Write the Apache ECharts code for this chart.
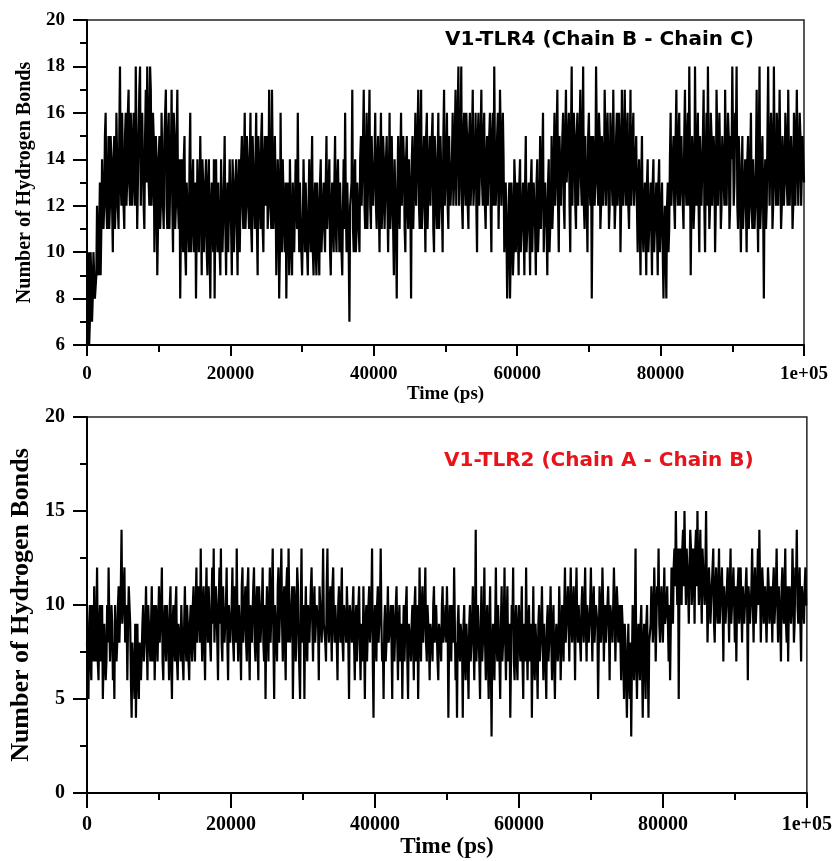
<!DOCTYPE html>
<html>
<head>
<meta charset="utf-8">
<script src="https://cdn.jsdelivr.net/npm/echarts@6/dist/echarts.min.js"></script>
<style>
html,body{margin:0;padding:0;background:#fff;}
#chart{width:835px;height:861px;}
</style>
</head>
<body>
<div id="chart"></div>
<script>
// Digitised traces: "even" samples at t = 0, 200, 400 ... 100000 ps,
// "odd" samples at t = 100, 300, ... 99900 ps.
const halfStep = 100;

// V1-TLR4 (Chain B - Chain C)
const tlr4Even = [
  6,10,7,9,8,10,8,12,9,13,11,14,12,16,11,15,12,14,10,15,12,16,11,18,12,
  14,11,16,13,17,12,15,13,16,18,11,15,18,12,16,11,17,18,13,18,12,16,10,15,9,
  14,11,16,12,15,17,11,16,13,17,10,15,12,17,11,8,14,10,15,9,13,10,16,11,14,
  10,8,14,10,15,9,13,11,14,9,14,8,13,10,8,14,10,13,9,14,10,15,9,13,10,
  14,9,13,10,14,9,14,10,15,11,16,12,14,11,16,10,15,11,16,9,14,11,16,10,15,
  13,11,17,12,17,11,15,9,14,8,16,10,14,10,8,13,9,14,9,13,10,14,16,10,13,
  9,14,10,13,9,14,10,15,9,13,9,12,9,14,10,13,10,15,11,14,9,13,10,15,10,
  14,10,13,9,14,16,10,13,7,12,17,10,14,11,13,10,15,12,17,11,16,13,17,11,15,
  12,16,11,15,10,16,12,14,11,15,10,16,12,15,9,14,8,15,11,16,12,14,10,15,11,
  14,8,15,11,16,12,17,11,17,12,15,10,16,11,15,12,16,10,14,11,16,12,15,10,17,
  12,16,11,15,12,16,13,17,12,18,13,18,11,16,12,15,11,16,13,17,12,16,10,16,12,
  17,12,16,11,15,12,16,10,16,18,12,15,11,17,12,16,10,13,8,12,8,13,9,14,10,
  13,9,14,10,13,9,15,10,13,9,14,10,12,9,14,10,15,11,16,10,13,9,14,10,15,
  12,16,13,17,10,15,12,16,11,17,13,16,10,18,12,15,11,16,12,17,12,18,11,15,10,
  16,12,8,15,12,18,13,16,11,15,12,17,12,16,11,16,13,17,11,15,12,16,10,17,12,
  17,12,16,11,17,13,16,12,15,10,14,9,15,10,13,9,14,10,13,9,14,10,13,9,14,
  10,13,8,12,8,13,11,16,12,15,11,17,12,16,13,15,11,17,12,16,18,9,15,11,18,
  12,16,10,15,12,17,10,16,18,11,16,12,15,10,17,12,16,11,15,13,17,12,16,11,15,
  18,12,16,18,11,14,10,15,11,14,10,15,12,16,11,14,12,17,10,18,12,15,8,14,12,
  18,12,16,11,18,13,16,12,17,11,15,12,16,13,17,12,15,11,16,12,17,12,16,12,15,
  13
];
const tlr4Odd = [
  8,6,10,7,10,8,9,10,11,9,14,11,15,12,13,11,15,12,14,11,16,12,15,13,16,
  12,15,12,16,13,16,12,16,12,15,13,17,12,16,12,15,13,16,12,17,13,15,12,14,11,
  15,12,14,11,16,12,15,11,14,12,16,11,15,12,14,11,12,14,10,13,11,14,10,13,10,
  13,11,12,10,12,14,10,13,10,13,10,12,11,14,12,11,13,10,14,10,13,11,12,10,14,
  11,14,10,13,11,13,10,14,12,14,11,15,12,14,11,15,12,14,11,15,12,15,11,14,12,
  15,12,14,11,14,12,13,11,13,10,12,14,11,13,11,12,14,10,13,10,14,11,12,13,10,
  11,12,13,10,12,11,13,10,12,10,13,10,13,10,12,11,13,11,13,10,12,11,13,11,13,
  12,13,10,12,11,12,13,10,12,13,11,13,10,13,11,14,12,15,12,14,11,15,12,15,12,
  14,12,14,12,14,11,15,11,14,12,13,11,15,11,14,11,13,12,14,12,15,11,14,12,14,
  12,14,11,14,12,15,12,15,11,14,12,15,11,14,12,15,11,15,12,14,11,15,12,15,12,
  14,12,15,12,14,12,15,12,16,12,15,12,15,13,16,12,15,12,15,12,14,12,15,12,15,
  13,15,12,14,12,15,12,15,12,14,13,16,13,15,12,14,12,11,10,13,10,12,10,13,11,
  11,13,10,12,11,13,10,12,11,13,10,13,11,13,10,12,11,14,10,13,11,13,10,12,11,
  14,12,15,12,15,12,15,12,15,13,15,12,15,12,16,12,15,12,15,13,15,12,15,12,15,
  13,15,12,14,13,15,12,15,12,14,13,15,12,14,12,15,12,14,12,16,13,15,12,15,13,
  14,15,12,14,12,15,12,14,12,13,11,13,11,12,11,13,10,12,11,13,10,12,11,13,10,
  12,10,11,10,12,10,14,12,14,12,15,13,15,12,15,12,15,13,15,12,14,12,14,12,14,
  14,12,15,12,15,12,14,12,14,12,15,12,14,12,15,12,14,12,15,12,14,12,15,12,14,
  15,13,15,12,15,12,13,11,13,12,14,11,14,12,14,11,14,12,15,11,14,12,13,11,15,
  14,12,15,12,14,12,15,12,14,12,14,13,15,12,14,12,14,12,15,12,14,12,15,12,14
];

// V1-TLR2 (Chain A - Chain B)
const tlr2Even = [
  8,5,10,6,9,11,7,12,6,10,8,5,9,6,10,12,7,10,6,5,10,8,11,8,14,
  9,12,8,6,11,9,4,8,5,4,9,5,8,6,10,7,11,6,10,7,11,8,6,10,7,
  11,8,12,6,10,7,9,6,11,5,10,7,11,6,9,7,10,6,11,7,9,6,10,7,11,
  7,12,8,11,13,7,11,6,12,8,11,7,12,13,8,10,6,12,13,7,11,8,12,6,10,
  8,12,7,11,13,7,10,6,12,8,11,7,12,6,10,8,12,7,11,6,10,8,12,7,5,
  11,7,12,8,13,5,10,7,12,8,13,7,11,6,12,13,8,10,5,11,7,12,8,5,13,
  8,5,11,7,10,8,12,7,11,8,10,6,11,8,13,9,7,13,8,11,7,12,8,10,6,
  11,8,12,7,10,8,11,5,10,8,11,6,10,7,11,6,9,11,5,10,7,11,8,13,4,
  10,7,11,8,13,7,5,10,7,11,8,10,5,9,7,11,6,10,8,5,10,7,11,5,9,
  7,10,6,11,8,5,12,7,11,8,12,7,10,6,9,7,11,8,10,6,9,7,11,8,10,
  11,4,10,7,9,12,6,4,10,7,9,4,10,6,9,5,10,7,11,6,14,7,10,5,11,
  7,12,6,10,5,11,3,9,6,12,7,10,5,11,7,12,6,11,8,4,10,12,6,10,6,
  10,7,11,5,9,12,6,10,7,4,11,6,9,5,10,7,11,6,9,5,10,7,11,6,10,
  5,9,7,11,6,10,7,12,8,11,7,12,8,11,6,12,8,10,7,11,8,12,7,10,8,
  12,7,11,8,10,5,11,8,12,7,10,8,11,6,10,8,12,7,11,8,10,6,9,5,8,
  4,9,5,3,10,6,13,5,9,6,10,4,9,5,10,4,8,11,8,12,7,11,13,8,11,
  8,12,9,11,7,6,12,9,13,15,10,5,13,10,14,15,10,13,9,14,10,13,9,14,15,
  10,14,9,13,10,15,8,12,9,11,13,8,12,9,13,10,12,7,11,9,12,8,13,9,12,
  8,7,11,9,12,8,11,9,12,6,11,9,13,8,12,9,13,14,8,12,9,11,8,12,9,
  11,8,12,9,13,8,11,7,12,9,13,8,7,11,9,13,8,12,14,9,12,7,11,9,12,
  10
];
const tlr2Odd = [
  6,9,7,10,7,8,9,7,9,7,10,7,9,7,8,9,7,9,8,10,7,10,8,11,9,
  11,8,10,9,10,6,8,6,9,7,6,8,6,9,7,9,8,10,8,9,7,10,8,9,9,
  8,10,7,9,8,10,8,10,7,9,8,10,7,9,8,10,7,9,8,10,7,9,8,10,8,
  10,8,11,8,9,10,8,10,9,11,8,10,9,8,11,8,10,9,8,11,8,10,8,10,8,
  10,8,11,8,9,10,8,11,8,10,8,11,8,10,8,11,8,10,8,11,8,10,8,10,9,
  9,10,8,11,8,10,8,11,8,11,9,10,8,11,8,10,9,11,8,10,9,11,8,10,8,
  10,9,8,10,8,11,9,10,8,10,9,11,9,10,9,8,11,9,10,9,11,9,10,8,10,
  9,10,8,10,9,11,8,10,9,10,8,9,7,10,8,9,7,8,9,7,10,8,10,7,9,
  8,10,8,10,9,8,9,7,9,8,9,8,10,7,10,8,9,7,9,8,7,10,7,9,8,
  9,8,10,7,10,8,9,10,8,10,8,10,8,9,8,10,8,10,7,9,8,10,8,9,8,
  9,8,9,10,8,9,8,9,8,9,8,9,7,9,7,9,7,9,8,9,7,10,7,9,7,
  9,8,9,7,9,7,8,7,9,8,10,7,9,7,9,8,9,7,9,7,9,7,9,7,9,
  8,9,7,9,7,8,9,7,9,8,7,9,7,9,7,9,8,9,7,9,7,9,8,9,7,
  8,9,8,9,8,9,10,8,10,9,10,9,10,9,10,9,10,8,10,9,10,9,10,8,10,
  9,10,8,10,9,8,10,9,10,9,8,10,9,10,9,8,10,9,10,9,8,10,7,9,6,
  7,6,8,7,8,9,7,8,7,9,7,8,7,9,7,8,9,10,9,10,9,10,9,10,9,
  10,9,10,9,10,9,10,12,11,12,13,11,12,13,11,12,13,11,12,13,11,12,13,11,12,
  12,11,13,11,12,11,10,11,10,12,9,11,10,11,9,11,10,11,9,11,10,11,9,11,10,
  11,10,12,9,10,11,9,11,10,11,9,11,10,11,9,11,10,11,10,11,9,11,10,11,10,
  10,11,9,11,10,11,9,11,10,11,9,11,10,11,10,11,9,11,10,11,9,11,10,11,10
];

// Axis tick settings
const xTicks = { min: 0, max: 100000, interval: 20000 };
const yTicksTop = { min: 6, max: 20, interval: 2 };
const yTicksBottom = { min: 0, max: 20, interval: 5 };
const titles = ['V1-TLR4 (Chain B - Chain C)', 'V1-TLR2 (Chain A - Chain B)'];
const xName = 'Time (ps)';
const yName = 'Number of Hydrogen Bonds';

function merge(even, odd) {
  const out = [];
  for (let i = 0; i < even.length; i++) {
    out.push([2 * i * halfStep, even[i]]);
    if (i < odd.length) out.push([(2 * i + 1) * halfStep, odd[i]]);
  }
  return out;
}
function xFmt(v) { return v === 100000 ? '1e+05' : String(v); }

const serif = 'Liberation Serif';
const chart = echarts.init(document.getElementById('chart'), null, { renderer: 'canvas' });

function xAxisCfg(gridIndex, tickLen, labelSize, labelMargin, nameSize, nameGap) {
  return {
    type: 'value', gridIndex,
    min: xTicks.min, max: xTicks.max, interval: xTicks.interval,
    axisLine: { show: true, lineStyle: { color: '#000', width: 2 } },
    axisTick: { show: true, length: tickLen, lineStyle: { color: '#000', width: 2 } },
    minorTick: { show: true, splitNumber: 2, length: 7, lineStyle: { color: '#000', width: 2 } },
    splitLine: { show: false },
    axisLabel: { formatter: xFmt, color: '#000', fontFamily: serif, fontWeight: 'bold', fontSize: labelSize, margin: labelMargin },
    name: xName, nameLocation: 'middle', nameGap,
    nameTextStyle: { color: '#000', fontFamily: serif, fontWeight: 'bold', fontSize: nameSize }
  };
}
function yAxisCfg(gridIndex, t, labelSize, nameSize, nameGap) {
  return {
    type: 'value', gridIndex,
    min: t.min, max: t.max, interval: t.interval,
    axisLine: { show: true, lineStyle: { color: '#000', width: 2 } },
    axisTick: { show: true, length: 14, lineStyle: { color: '#000', width: 2 } },
    minorTick: { show: true, splitNumber: 2, length: 7, lineStyle: { color: '#000', width: 2 } },
    splitLine: { show: false },
    axisLabel: { color: '#000', fontFamily: serif, fontWeight: 'bold', fontSize: labelSize, margin: 22 },
    name: yName, nameLocation: 'middle', nameGap,
    nameTextStyle: { color: '#000', fontFamily: serif, fontWeight: 'bold', fontSize: nameSize }
  };
}

const lineStyle = { color: '#000', width: 2.2, join: 'bevel' };

chart.setOption({
  animation: false,
  backgroundColor: '#fff',
  grid: [
    { left: 87, top: 20, width: 717, height: 325, show: true, borderColor: '#222', borderWidth: 1.5, backgroundColor: 'transparent' },
    { left: 87, top: 417, width: 721, height: 376, show: true, borderColor: '#222', borderWidth: 1.5, backgroundColor: 'transparent' }
  ],
  xAxis: [
    xAxisCfg(0, 11, 19, 20, 19, 40),
    xAxisCfg(1, 15, 20, 22, 23, 40)
  ],
  yAxis: [
    yAxisCfg(0, yTicksTop, 19, 20, 50),
    yAxisCfg(1, yTicksBottom, 20, 26, 48)
  ],
  graphic: [
    { type: 'text', left: 606 - 161, top: 30, style: { text: titles[0], fill: '#000', font: 'bold 20px "DejaVu Sans"' } },
    { type: 'text', left: 605 - 161, top: 451, style: { text: titles[1], fill: '#e8141b', font: 'bold 20px "DejaVu Sans"' } }
  ],
  series: [
    { type: 'line', xAxisIndex: 0, yAxisIndex: 0, data: merge(tlr4Even, tlr4Odd), showSymbol: false, symbol: 'none', sampling: false, lineStyle, silent: true },
    { type: 'line', xAxisIndex: 1, yAxisIndex: 1, data: merge(tlr2Even, tlr2Odd), showSymbol: false, symbol: 'none', sampling: false, lineStyle, silent: true }
  ]
});
</script>
</body>
</html>
